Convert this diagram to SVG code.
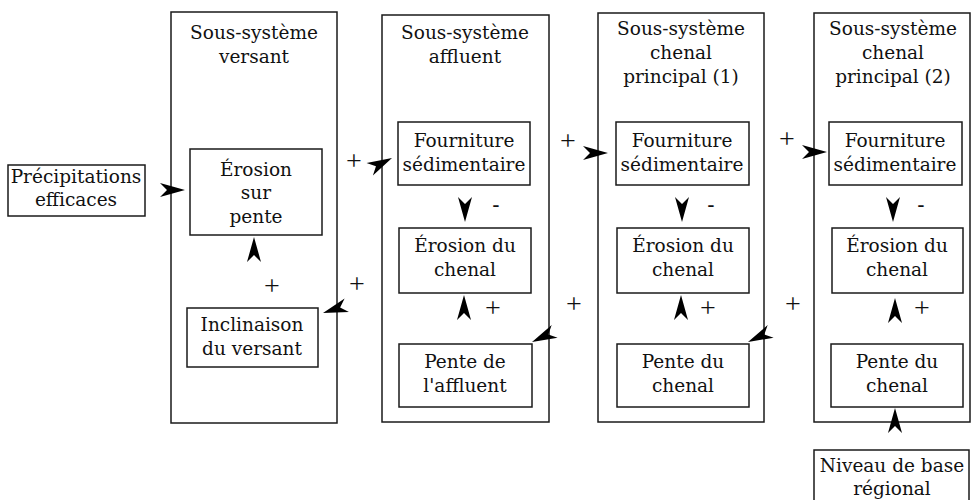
<svg xmlns="http://www.w3.org/2000/svg" width="971" height="500" viewBox="0 0 971 500">
<style>
.box{fill:none;stroke:#1a1a1a;stroke-width:1.5}
.t{font-family:"DejaVu Serif","Liberation Serif",serif;font-size:18.5px;fill:#111;text-anchor:middle}
.s{font-family:"Liberation Serif","DejaVu Serif",serif;font-size:28px;fill:#111;text-anchor:middle}
.m{font-family:"Liberation Sans","DejaVu Sans",sans-serif;font-size:22px;fill:#111;text-anchor:middle}
.ah{fill:#000}
</style>
<defs>
<path id="ah" d="M0,0 L-25,-7 L-18,0 L-25,7 Z"/>
</defs>
<rect width="971" height="500" fill="#fff"/>

<g id="precipitations">
<rect class="box" x="8" y="165" width="137" height="51"/>
<text class="t" x="76" y="183">Précipitations</text>
<text class="t" x="76" y="206">efficaces</text>
</g>

<g id="ss-versant">
<rect class="box" x="171" y="12" width="166" height="411"/>
<text class="t" x="254" y="39">Sous-système</text>
<text class="t" x="254" y="63">versant</text>
</g>
<g id="erosion-pente">
<rect class="box" x="190" y="149" width="132" height="86"/>
<text class="t" x="256" y="176">Érosion</text>
<text class="t" x="256" y="199">sur</text>
<text class="t" x="256" y="223">pente</text>
</g>
<g id="inclinaison">
<rect class="box" x="187" y="308" width="131" height="59"/>
<text class="t" x="252" y="331">Inclinaison</text>
<text class="t" x="252" y="355">du versant</text>
</g>

<g id="ss-affluent">
<rect class="box" x="382" y="15" width="167" height="407"/>
<text class="t" x="465" y="39">Sous-système</text>
<text class="t" x="465" y="63">affluent</text>
</g>
<g id="fourniture-affluent">
<rect class="box" x="398" y="122" width="132" height="63"/>
<text class="t" x="464" y="147">Fourniture</text>
<text class="t" x="464" y="171">sédimentaire</text>
</g>
<g id="erosion-affluent">
<rect class="box" x="399" y="228" width="132" height="65"/>
<text class="t" x="465" y="252">Érosion du</text>
<text class="t" x="465" y="276">chenal</text>
</g>
<g id="pente-affluent">
<rect class="box" x="399" y="344" width="133" height="63"/>
<text class="t" x="465" y="368">Pente de</text>
<text class="t" x="465" y="392">l'affluent</text>
</g>

<g id="ss-chenal1">
<rect class="box" x="598" y="13" width="166" height="409"/>
<text class="t" x="681" y="35">Sous-système</text>
<text class="t" x="681" y="59">chenal</text>
<text class="t" x="681" y="83">principal (1)</text>
</g>
<g id="fourniture-chenal1">
<rect class="box" x="616" y="122" width="133" height="63"/>
<text class="t" x="682" y="147">Fourniture</text>
<text class="t" x="682" y="171">sédimentaire</text>
</g>
<g id="erosion-chenal1">
<rect class="box" x="617" y="228" width="132" height="65"/>
<text class="t" x="683" y="252">Érosion du</text>
<text class="t" x="683" y="276">chenal</text>
</g>
<g id="pente-chenal1">
<rect class="box" x="617" y="344" width="132" height="63"/>
<text class="t" x="683" y="368">Pente du</text>
<text class="t" x="683" y="392">chenal</text>
</g>

<g id="ss-chenal2">
<rect class="box" x="814" y="13" width="156" height="409"/>
<text class="t" x="893" y="35">Sous-système</text>
<text class="t" x="893" y="59">chenal</text>
<text class="t" x="893" y="83">principal (2)</text>
</g>
<g id="fourniture-chenal2">
<rect class="box" x="829" y="122" width="133" height="63"/>
<text class="t" x="895" y="147">Fourniture</text>
<text class="t" x="895" y="171">sédimentaire</text>
</g>
<g id="erosion-chenal2">
<rect class="box" x="832" y="228" width="131" height="65"/>
<text class="t" x="897" y="252">Érosion du</text>
<text class="t" x="897" y="276">chenal</text>
</g>
<g id="pente-chenal2">
<rect class="box" x="831" y="344" width="132" height="63"/>
<text class="t" x="897" y="368">Pente du</text>
<text class="t" x="897" y="392">chenal</text>
</g>

<g id="niveau-base">
<rect class="box" x="814" y="450" width="155" height="52"/>
<text class="t" x="892" y="472">Niveau de base</text>
<text class="t" x="892" y="495">régional</text>
</g>

<g id="connectors" class="ah">
<use href="#ah" transform="translate(185,190)"/>
<use href="#ah" transform="translate(392,158) rotate(-27)"/>
<use href="#ah" transform="translate(608,153)"/>
<use href="#ah" transform="translate(827,152)"/>
<use href="#ah" transform="translate(323,313) rotate(162)"/>
<use href="#ah" transform="translate(532,342) rotate(155)"/>
<use href="#ah" transform="translate(748,342) rotate(155)"/>
<use href="#ah" transform="translate(254,237) rotate(-90)"/>
<use href="#ah" transform="translate(465,222) rotate(90)"/>
<use href="#ah" transform="translate(682,222) rotate(90)"/>
<use href="#ah" transform="translate(893,222) rotate(90)"/>
<use href="#ah" transform="translate(464,295) rotate(-90)"/>
<use href="#ah" transform="translate(681,295) rotate(-90)"/>
<use href="#ah" transform="translate(895,298) rotate(-90)"/>
<use href="#ah" transform="translate(895,408) rotate(-90)"/>
</g>

<g id="signs">
<text class="s" x="272" y="295">+</text>
<text class="s" x="357" y="293">+</text>
<text class="s" x="354" y="170">+</text>
<text class="s" x="493" y="317">+</text>
<text class="s" x="568" y="150">+</text>
<text class="s" x="574" y="313">+</text>
<text class="s" x="708" y="317">+</text>
<text class="s" x="787" y="148">+</text>
<text class="s" x="793" y="313">+</text>
<text class="s" x="922" y="317">+</text>
<text class="m" x="496" y="212">-</text>
<text class="m" x="711" y="212">-</text>
<text class="m" x="921" y="212">-</text>
</g>
</svg>
